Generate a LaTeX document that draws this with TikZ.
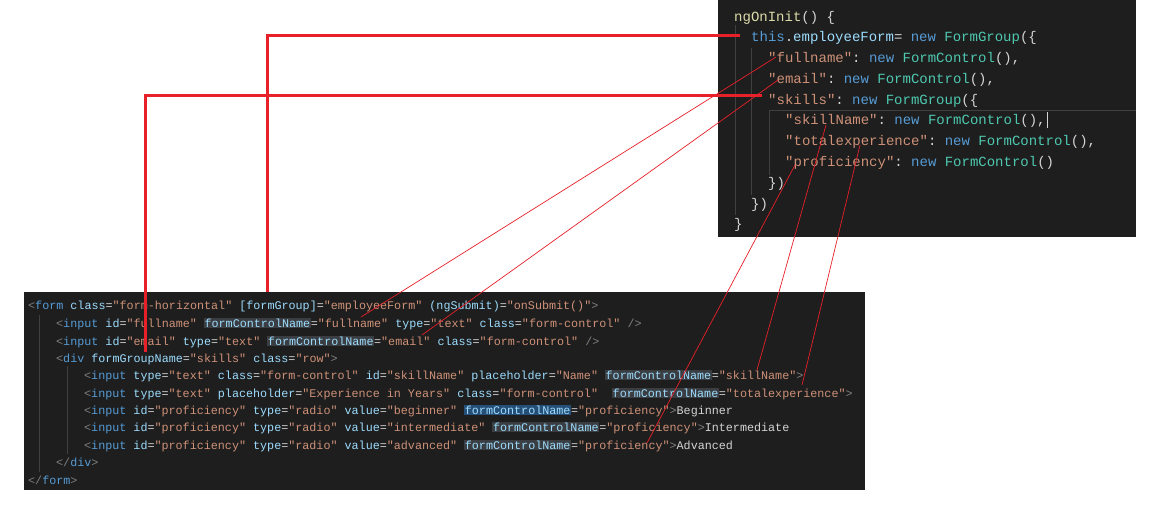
\documentclass[tikz,border=0pt]{standalone}
\usepackage{fontspec}
\setmonofont{Liberation Mono}
\definecolor{bg}{HTML}{1E1E1E}
\definecolor{pu}{HTML}{808080}
\definecolor{tg}{HTML}{569CD6}
\definecolor{at}{HTML}{9CDCFE}
\definecolor{st}{HTML}{CE9178}
\definecolor{tx}{HTML}{D4D4D4}
\definecolor{ty}{HTML}{4EC9B0}
\definecolor{fn}{HTML}{DCDCAA}
\definecolor{hlg}{HTML}{3A3D41}
\definecolor{hlb}{HTML}{264F78}
\definecolor{gd}{HTML}{404040}
\definecolor{rl}{HTML}{E8202A}
\newcommand\Pt[1]{\textcolor{pu}{#1}}
\newcommand\Tg[1]{\textcolor{tg}{#1}}
\newcommand\At[1]{\textcolor{at}{#1}}
\newcommand\St[1]{\textcolor{st}{#1}}
\newcommand\Tx[1]{\textcolor{tx}{#1}}
\newcommand\Ty[1]{\textcolor{ty}{#1}}
\newcommand\hA[2]{\At{#1}\Tx{=}\St{"#2"}}
\newcommand\hlA[3]{{\setlength\fboxsep{0.6pt}\colorbox{#1}{\At{#2}}}\Tx{=}\St{"#3"}}
\tikzset{
  bcode/.style={anchor=base west,inner sep=0pt,font=\ttfamily\fontsize{11.73}{14}\selectfont},
  tcode/.style={anchor=base west,inner sep=0pt,font=\ttfamily\fontsize{14}{17}\selectfont},
  thick red/.style={draw=rl,line width=3pt},
  thin red/.style={draw=rl,line width=0.7pt},
  guide/.style={draw=gd,line width=0.8pt}
}
\begin{document}
\begin{tikzpicture}[x=1pt,y=-1pt]
\useasboundingbox (0,0) rectangle (1170,515);
\fill[white] (0,0) rectangle (1170,515);
% boxes
\fill[bg] (718,0) rectangle (1136,237);
\fill[bg] (24,292) rectangle (865,490);
% top guides and current line
\draw[gd,line width=0.6pt] (769,110) -- (1136,110);
\draw[guide] (735,25) -- (735,215);
\draw[guide] (751,48) -- (751,195);
\draw[guide] (769,110) -- (769,175);
\draw[tx,line width=0.8pt] (1047,112) -- (1047,128);
% bottom guides
\draw[guide] (39,315) -- (39,472);
\draw[guide] (67,366) -- (67,454);
% top code
\node[tcode] (t1) at (734,21) {\textcolor{fn}{ngOnInit}\Tx{() \{}};
\node[tcode] (t2) at (751,41) {\Tg{this}\Tx{.}\At{employeeForm}\Tx{ = }\Tg{new} \Ty{FormGroup}\Tx{(\{}};
\node[tcode] (t3) at (768,62) {\St{"fullname"}\Tx{: }\Tg{new} \Ty{FormControl}\Tx{(),}};
\node[tcode] (t4) at (768,83) {\St{"email"}\Tx{: }\Tg{new} \Ty{FormControl}\Tx{(),}};
\node[tcode] (t5) at (768,104) {\St{"skills"}\Tx{: }\Tg{new} \Ty{FormGroup}\Tx{(\{}};
\node[tcode] (t6) at (785,124) {\St{"skillName"}\Tx{: }\Tg{new} \Ty{FormControl}\Tx{(),}};
\node[tcode] (t7) at (785,145) {\St{"totalexperience"}\Tx{: }\Tg{new} \Ty{FormControl}\Tx{(),}};
\node[tcode] (t8) at (785,166) {\St{"proficiency"}\Tx{: }\Tg{new} \Ty{FormControl}\Tx{()}};
\node[tcode] (t9) at (768,187) {\Tx{\})}};
\node[tcode] (t10) at (751,208) {\Tx{\})}};
\node[tcode] (t11) at (734,228) {\Tx{\}}};
% bottom code
\node[bcode] (b1) at (28,309) {\Pt{<}\Tg{form} \hA{class}{form-horizontal} \hA{[formGroup]}{employeeForm} \hA{(ngSubmit)}{onSubmit()}\Pt{>}};
\node[bcode] (b2) at (56,327) {\Pt{<}\Tg{input} \hA{id}{fullname} \hlA{hlg}{formControlName}{fullname} \hA{type}{text} \hA{class}{form-control} \Pt{/>}};
\node[bcode] (b3) at (56,345) {\Pt{<}\Tg{input} \hA{id}{email} \hA{type}{text} \hlA{hlg}{formControlName}{email} \hA{class}{form-control} \Pt{/>}};
\node[bcode] (b4) at (56,362) {\Pt{<}\Tg{div} \hA{formGroupName}{skills} \hA{class}{row}\Pt{>}};
\node[bcode] (b5) at (84,379) {\Pt{<}\Tg{input} \hA{type}{text} \hA{class}{form-control} \hA{id}{skillName} \hA{placeholder}{Name} \hlA{hlg}{formControlName}{skillName}\Pt{>}};
\node[bcode] (b6) at (84,397) {\Pt{<}\Tg{input} \hA{type}{text} \hA{placeholder}{Experience in Years} \hA{class}{form-control}~ \hlA{hlg}{formControlName}{totalexperience}\Pt{>}};
\node[bcode] (b7) at (84,414) {\Pt{<}\Tg{input} \hA{id}{proficiency} \hA{type}{radio} \hA{value}{beginner} \hlA{hlb}{formControlName}{proficiency}\Pt{>}\Tx{Beginner}};
\node[bcode] (b8) at (84,431) {\Pt{<}\Tg{input} \hA{id}{proficiency} \hA{type}{radio} \hA{value}{intermediate} \hlA{hlg}{formControlName}{proficiency}\Pt{>}\Tx{Intermediate}};
\node[bcode] (b9) at (84,449) {\Pt{<}\Tg{input} \hA{id}{proficiency} \hA{type}{radio} \hA{value}{advanced} \hlA{hlg}{formControlName}{proficiency}\Pt{>}\Tx{Advanced}};
\node[bcode] (b10) at (56,466) {\Pt{</}\Tg{div}\Pt{>}};
\node[bcode] (b11) at (28,484) {\Pt{</}\Tg{form}\Pt{>}};
% connector end points
\coordinate (eForm) at (740,35);
\coordinate (eFormEnd) at (267,292);
\coordinate (eSk) at (762,95);
\coordinate (eSkEnd) at (145,352);
\coordinate (fnA) at (776,57);  \coordinate (fnB) at (361,317);
\coordinate (emA) at (778,80);  \coordinate (emB) at (422,335);
\coordinate (snA) at (826,125); \coordinate (snB) at (757,370);
\coordinate (teA) at (860,145); \coordinate (teB) at (802,385);
\coordinate (prA) at (795,165); \coordinate (prB) at (647,443);
% connectors
\draw[thick red] (eForm) -- (eFormEnd |- eForm) -- (eFormEnd);
\draw[thick red] (eSk) -- (eSkEnd |- eSk) -- (eSkEnd);
\draw[thin red] (fnA) -- (fnB);
\draw[thin red] (emA) -- (emB);
\draw[thin red] (snA) -- (snB);
\draw[thin red] (teA) -- (teB);
\draw[thin red] (prA) -- (prB);
\end{tikzpicture}
\end{document}
